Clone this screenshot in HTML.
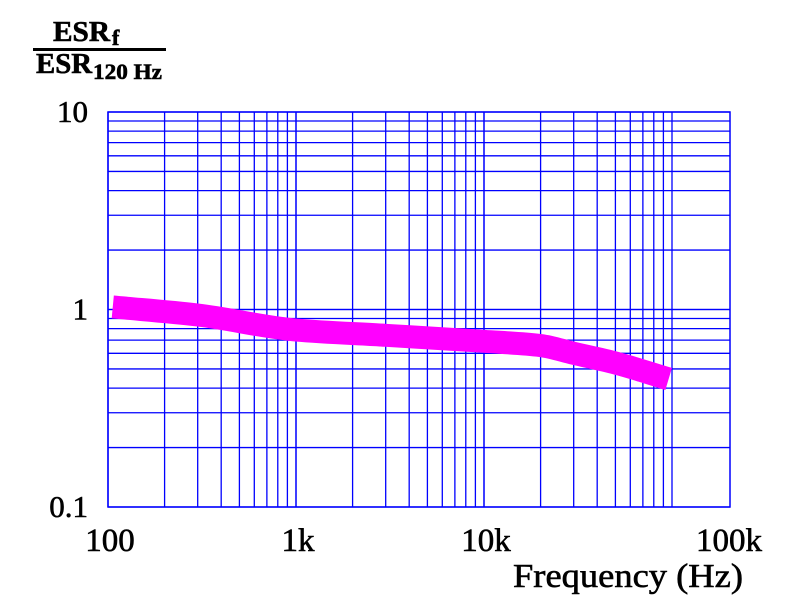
<!DOCTYPE html>
<html><head><meta charset="utf-8"><style>html,body{margin:0;padding:0;background:#fff}svg{display:block}text{font-family:"Liberation Serif",serif;fill:#000;stroke:#000;stroke-width:0.6}</style></head>
<body>
<svg id="chart" width="789" height="607" viewBox="0 0 789 607" xmlns="http://www.w3.org/2000/svg">
<g>
<text x="53" y="41" font-size="28" font-weight="bold" textLength="57" lengthAdjust="spacingAndGlyphs">ESR</text>
<text x="112" y="45" font-size="22" font-weight="bold">f</text>
<rect x="33" y="48" width="133" height="3" fill="#000"/>
<text x="36" y="73" font-size="28" font-weight="bold" textLength="56" lengthAdjust="spacingAndGlyphs">ESR</text>
<text x="93" y="79" font-size="22" font-weight="bold" textLength="69" lengthAdjust="spacingAndGlyphs">120 Hz</text>
</g>
<g id="grid"></g>
<g id="series"></g>
<g id="labels"></g>
<text x="513" y="587" font-size="34" textLength="230" lengthAdjust="spacingAndGlyphs">Frequency (Hz)</text>
</svg>
<script>
const freqs = [106, 300, 1000, 3000, 10000, 20000, 30000, 50000, 96000];
const ratios = [1.03, 0.938, 0.787, 0.74, 0.69, 0.657, 0.60, 0.536, 0.445];
const yTicks = [10, 1, 0.1];
const yTickLabels = ["10", "1", "0.1"];
const xTicks = [100, 1000, 10000, 100000];
const xTickLabels = ["100", "1k", "10k", "100k"];

const NS = "http://www.w3.org/2000/svg";
const L = 108, R = 730, T = 112, B = 507;
const xDec = 188, yDec = (B - T) / 2;
function xs(f){ return L + (Math.log10(f) - 2) * xDec; }
function ys(v){ return B - (Math.log10(v) + 1) * yDec; }
function mk(tag, attrs, parent){ const e = document.createElementNS(NS, tag); for (const k in attrs) e.setAttribute(k, attrs[k]); parent.appendChild(e); return e; }

const grid = document.getElementById('grid');
for (let d = 0.1; d < 5; d *= 10) {
  for (let m = 1; m <= 10; m++) {
    const v = d * m; if (v > 10.0001) continue;
    const y = ys(v);
    const ln = mk('line', {x1: L, x2: R, y1: y, y2: y, stroke: '#0000ff', 'stroke-width': 1.3}, grid);
    
    
  }
}
for (let d = 100; d < 50000; d *= 10) {
  for (let m = 1; m <= 10; m++) {
    const x = xs(d * m);
    const ln = mk('line', {x1: x, x2: x, y1: T, y2: B, stroke: '#0000ff', 'stroke-width': 1.3}, grid);
    
    
  }
}
const border = mk('rect', {x: L, y: T, width: R - L, height: B - T, fill: 'none', stroke: '#0000ff', 'stroke-width': 1.5}, grid);



// monotone cubic (Fritsch-Carlson) in x
const pts = freqs.map((f, i) => [xs(f), ys(ratios[i])]);
const n = pts.length;
const dx = [], sl = [];
for (let i = 0; i < n - 1; i++) { dx.push(pts[i+1][0] - pts[i][0]); sl.push((pts[i+1][1] - pts[i][1]) / dx[i]); }
const m = [sl[0]];
for (let i = 1; i < n - 1; i++) {
  if (sl[i-1] * sl[i] <= 0) m.push(0);
  else m.push((dx[i-1] + dx[i]) * 3 / ((2*dx[i] + dx[i-1]) / sl[i-1] + (dx[i] + 2*dx[i-1]) / sl[i]));
}
m.push(sl[n-2]);
let d = 'M' + pts[0][0] + ',' + pts[0][1];
for (let i = 0; i < n - 1; i++) {
  const h = dx[i] / 3;
  d += ' C' + (pts[i][0] + h) + ',' + (pts[i][1] + m[i]*h) + ' ' + (pts[i+1][0] - h) + ',' + (pts[i+1][1] - m[i+1]*h) + ' ' + pts[i+1][0] + ',' + pts[i+1][1];
}
const path = mk('path', {d: d, fill: 'none', stroke: '#ff00ff', 'stroke-width': 23, 'stroke-linecap': 'butt'}, document.getElementById('series'));



const labels = document.getElementById('labels');
yTicks.forEach((v, i) => {
  const t = mk('text', {x: 88, y: ys(v) + 10, 'font-size': 31, 'text-anchor': 'end'}, labels);
  
  
  t.textContent = yTickLabels[i];
});
xTicks.forEach((v, i) => {
  let x = xs(v);
  if (v === 100000) x = 727;
  const t = mk('text', {x: x + 2, y: 551, 'font-size': 33, 'text-anchor': 'middle'}, labels);
  
  
  t.textContent = xTickLabels[i];
});
</script>
</body></html>
